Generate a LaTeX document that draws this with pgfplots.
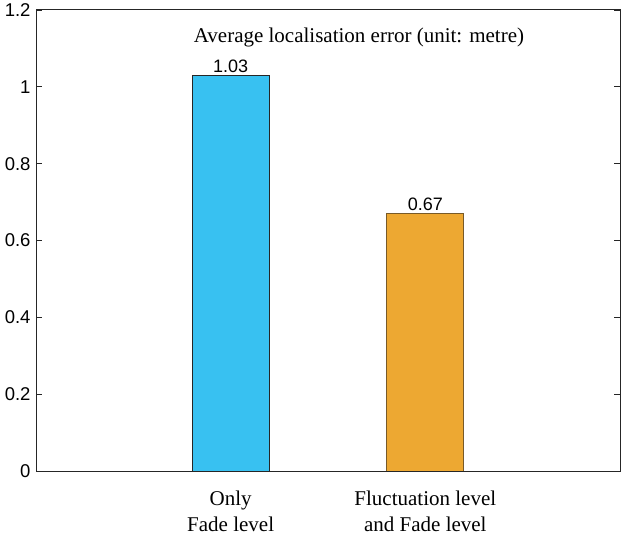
\documentclass[border=0pt]{standalone}
\usepackage{fontspec}
\setmainfont{Liberation Serif}
\newfontfamily\arial{Liberation Sans}
\usepackage{pgfplots}
\pgfplotsset{compat=1.18}
\definecolor{barblue}{RGB}{56,193,241}
\definecolor{barorange}{RGB}{237,168,50}
\definecolor{orangeedge}{RGB}{120,90,40}
\begin{document}
\begin{tikzpicture}
\begin{axis}[
  scale only axis,
  width=584bp, height=461bp,
  xmin=0, xmax=3, ymin=0, ymax=1.2,
  xtick={1,2},
  xticklabels={{Only\\Fade level},{Fluctuation level\\and Fade level}},
  xticklabel style={font=\fontsize{21bp}{26bp}\selectfont, align=center, yshift=-10bp},
  major x tick style={draw=none},
  ytick={0,0.2,0.4,0.6,0.8,1,1.2},
  yticklabel style={font=\fontsize{18.5bp}{21bp}\selectfont\arial, xshift=-2bp},
  /pgf/number format/assume math mode=true,
  tick align=inside,
  ytick pos=both,
  major tick length=6bp,
  axis line style={line width=1pt, draw=black!85},
  tick style={line width=0.9pt, draw=black!85},
  ybar, bar width=77bp,
  nodes near coords,
  every node near coord/.append style={font=\fontsize{18bp}{21bp}\selectfont\arial, inner sep=2.5bp, /pgf/number format/fixed, /pgf/number format/precision=2, /pgf/number format/fixed zerofill},
]
\addplot[fill=barblue, draw=black!85, line width=0.8pt, bar shift=0pt] coordinates {(1,1.03)};
\addplot[fill=barorange, draw=orangeedge, line width=0.8pt, bar shift=0pt] coordinates {(2,0.67)};
\node[font=\fontsize{21bp}{25bp}\selectfont] at (rel axis cs:0.553,0.941) {Average localisation error (unit: metre)};
\end{axis}
\pgfresetboundingbox
\path (-36bp,-66bp) rectangle (588bp,471bp);
\end{tikzpicture}
\end{document}
